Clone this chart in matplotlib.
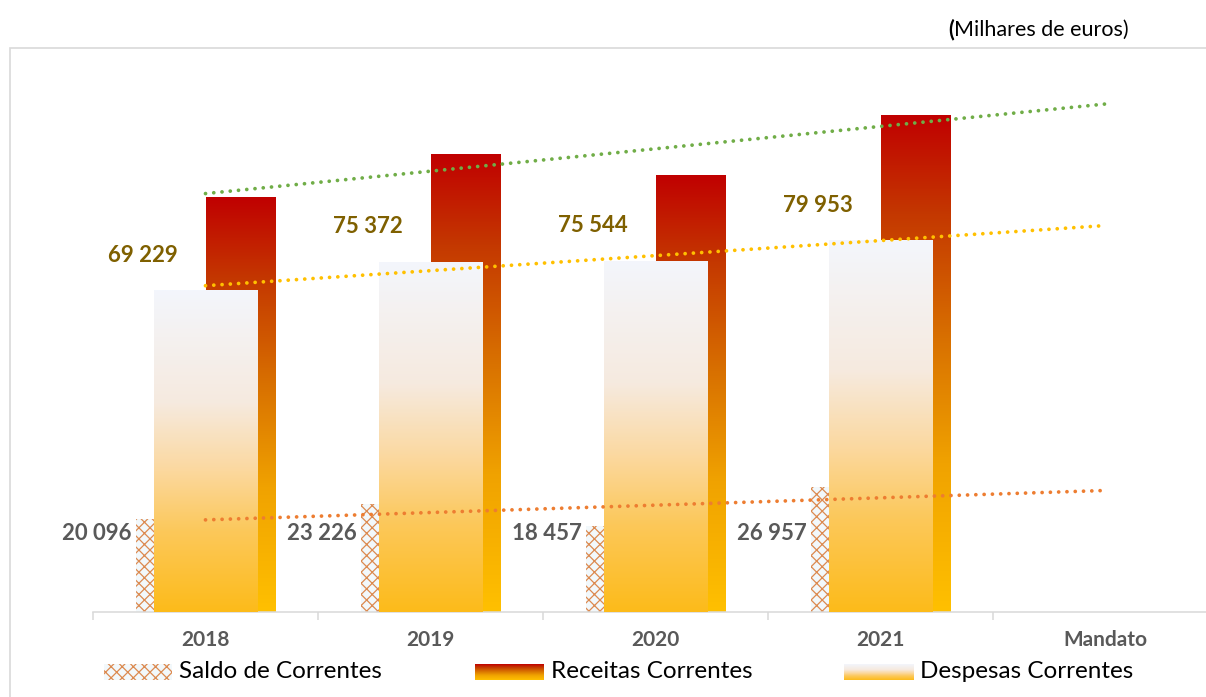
"""Saldo, receitas e despesas correntes com linhas de tendencia."""
import numpy as np
import matplotlib
matplotlib.use("Agg")
from matplotlib import pyplot
from matplotlib.colors import LinearSegmentedColormap
from matplotlib.patches import Rectangle

categories = ["2018", "2019", "2020", "2021", "Mandato"]
despesas = [69229, 75372, 75544, 79953]
saldo = [20096, 23226, 18457, 26957]
receitas = [89325, 98598, 94001, 106910]
legend_names = ["Saldo de Correntes", "Receitas Correntes", "Despesas Correntes"]

W, H = 1206, 697
pyplot.rcParams["font.family"] = ["Lato", "DejaVu Sans"]
pyplot.rcParams["hatch.linewidth"] = 0.9

rec_cmap = LinearSegmentedColormap.from_list(
    "rec", [(0, "#FFC000"), (0.3, "#F0A200"), (0.55, "#D87000"),
            (0.8, "#C43800"), (1, "#C00000")])
desp_cmap = LinearSegmentedColormap.from_list(
    "desp", [(0, "#FDBB1A"), (0.25, "#FCC85A"), (0.45, "#FBD9A2"),
             (0.65, "#F6EADF"), (1, "#F3F6FC")])
grad = np.linspace(0, 1, 256).reshape(-1, 1)


def fx(x):
    return x / W


def fy(y):
    return 1 - y / H


def fmt(v):
    return "{:,}".format(v).replace(",", " ")


def gradient_bars(ax, bars, cmap, z):
    for b in bars:
        l, bot = b.get_x(), b.get_y()
        r, top = l + b.get_width(), bot + b.get_height()
        im = ax.imshow(grad, cmap=cmap, origin="lower", aspect="auto",
                       extent=[l, r, bot, top], zorder=z, interpolation="bilinear")
        im.set_clip_path(b)


fig = pyplot.figure(figsize=(W / 100, H / 100), dpi=100)
ax = fig.add_axes([fx(93), fy(612), fx(1206 - 93), (612 - 48) / H])

x = np.arange(len(despesas))
sb = ax.bar(x - 0.311, saldo, width=0.1, align="edge", facecolor="#F2F8FB",
            edgecolor="#DC8A50", hatch="xxx", linewidth=0, zorder=1)
rb = ax.bar(x + 0.004, receitas, width=0.311, align="edge", facecolor="none",
            linewidth=0, zorder=2)
db = ax.bar(x - 0.227, despesas, width=0.458, align="edge", facecolor="none",
            linewidth=0, zorder=3)
gradient_bars(ax, rb, rec_cmap, 2)
gradient_bars(ax, db, desp_cmap, 3)

# trend lines, extended one period (Mandato)
xt = np.array([0, len(categories) - 1])
for vals, col in [(receitas, "#70AD47"), (despesas, "#FFC000"), (saldo, "#ED7D31")]:
    k, c = np.polyfit(x, vals, 1)
    ax.plot(xt, k * xt + c, color=col, lw=2.7, linestyle=(0, (0.01, 2.2)),
            dash_capstyle="round", zorder=5)

for i in range(len(despesas)):
    ax.text(i - 0.28, despesas[i] + 7500, fmt(despesas[i]), ha="center", va="center",
            fontsize=16, fontweight="bold", color="#7F6000", zorder=6)
    ax.text(i - 0.328, 16800, fmt(saldo[i]), ha="right", va="center",
            fontsize=16, fontweight="bold", color="#595959", zorder=6)

ax.set_xticks(range(len(categories)))
ax.set_xticklabels(categories, fontsize=15, fontweight="bold", color="#595959")
ax.set_xticks(np.arange(len(categories) + 1) - 0.5, minor=True)
ax.tick_params(axis="x", which="major", length=0, pad=13)
ax.tick_params(axis="x", which="minor", length=6, color="#D9D9D9", width=1.1)
ax.set_yticks([])
ax.set_xlim(-0.5, -0.5 + (1206 - 93) / 225)
ax.set_ylim(0, (612 - 48) / 4.65 * 1000)
for s in ["top", "left", "right"]:
    ax.spines[s].set_visible(False)
ax.spines["bottom"].set_color("#D9D9D9")
ax.spines["bottom"].set_linewidth(1.1)
ax.patch.set_alpha(0)

# chart border
fig.patches.append(Rectangle((fx(10), fy(730)), fx(1230), (730 - 48) / H,
                             transform=fig.transFigure, facecolor="none",
                             edgecolor="#D9D9D9", linewidth=1.2, zorder=0))

fig.text(fx(954), fy(30), "(", ha="right", va="center", fontsize=15.5, fontweight="bold")
fig.text(fx(954), fy(30), "Milhares de euros)", ha="left", va="center", fontsize=15.5)

# legend
swatches = [(104, 172), (475, 544), (844, 913)]
for (x0, x1), name, kind in zip(swatches, legend_names, ["saldo", "rec", "desp"]):
    lax = fig.add_axes([fx(x0), fy(680), fx(x1 - x0), 16 / H])
    lax.set_axis_off()
    if kind == "saldo":
        lax.add_patch(Rectangle((0, 0), 1, 1, facecolor="#F2F8FB", edgecolor="#DC8A50",
                                hatch="xxx", linewidth=0))
    else:
        lax.imshow(grad, cmap=rec_cmap if kind == "rec" else desp_cmap, origin="lower",
                   aspect="auto", extent=[0, 1, 0, 1])
    lax.set_xlim(0, 1)
    lax.set_ylim(0, 1)
    fig.text(fx(x1 + 7), fy(672), name, ha="left", va="center", fontsize=17.5)

fig.savefig("out.png", dpi=100)
